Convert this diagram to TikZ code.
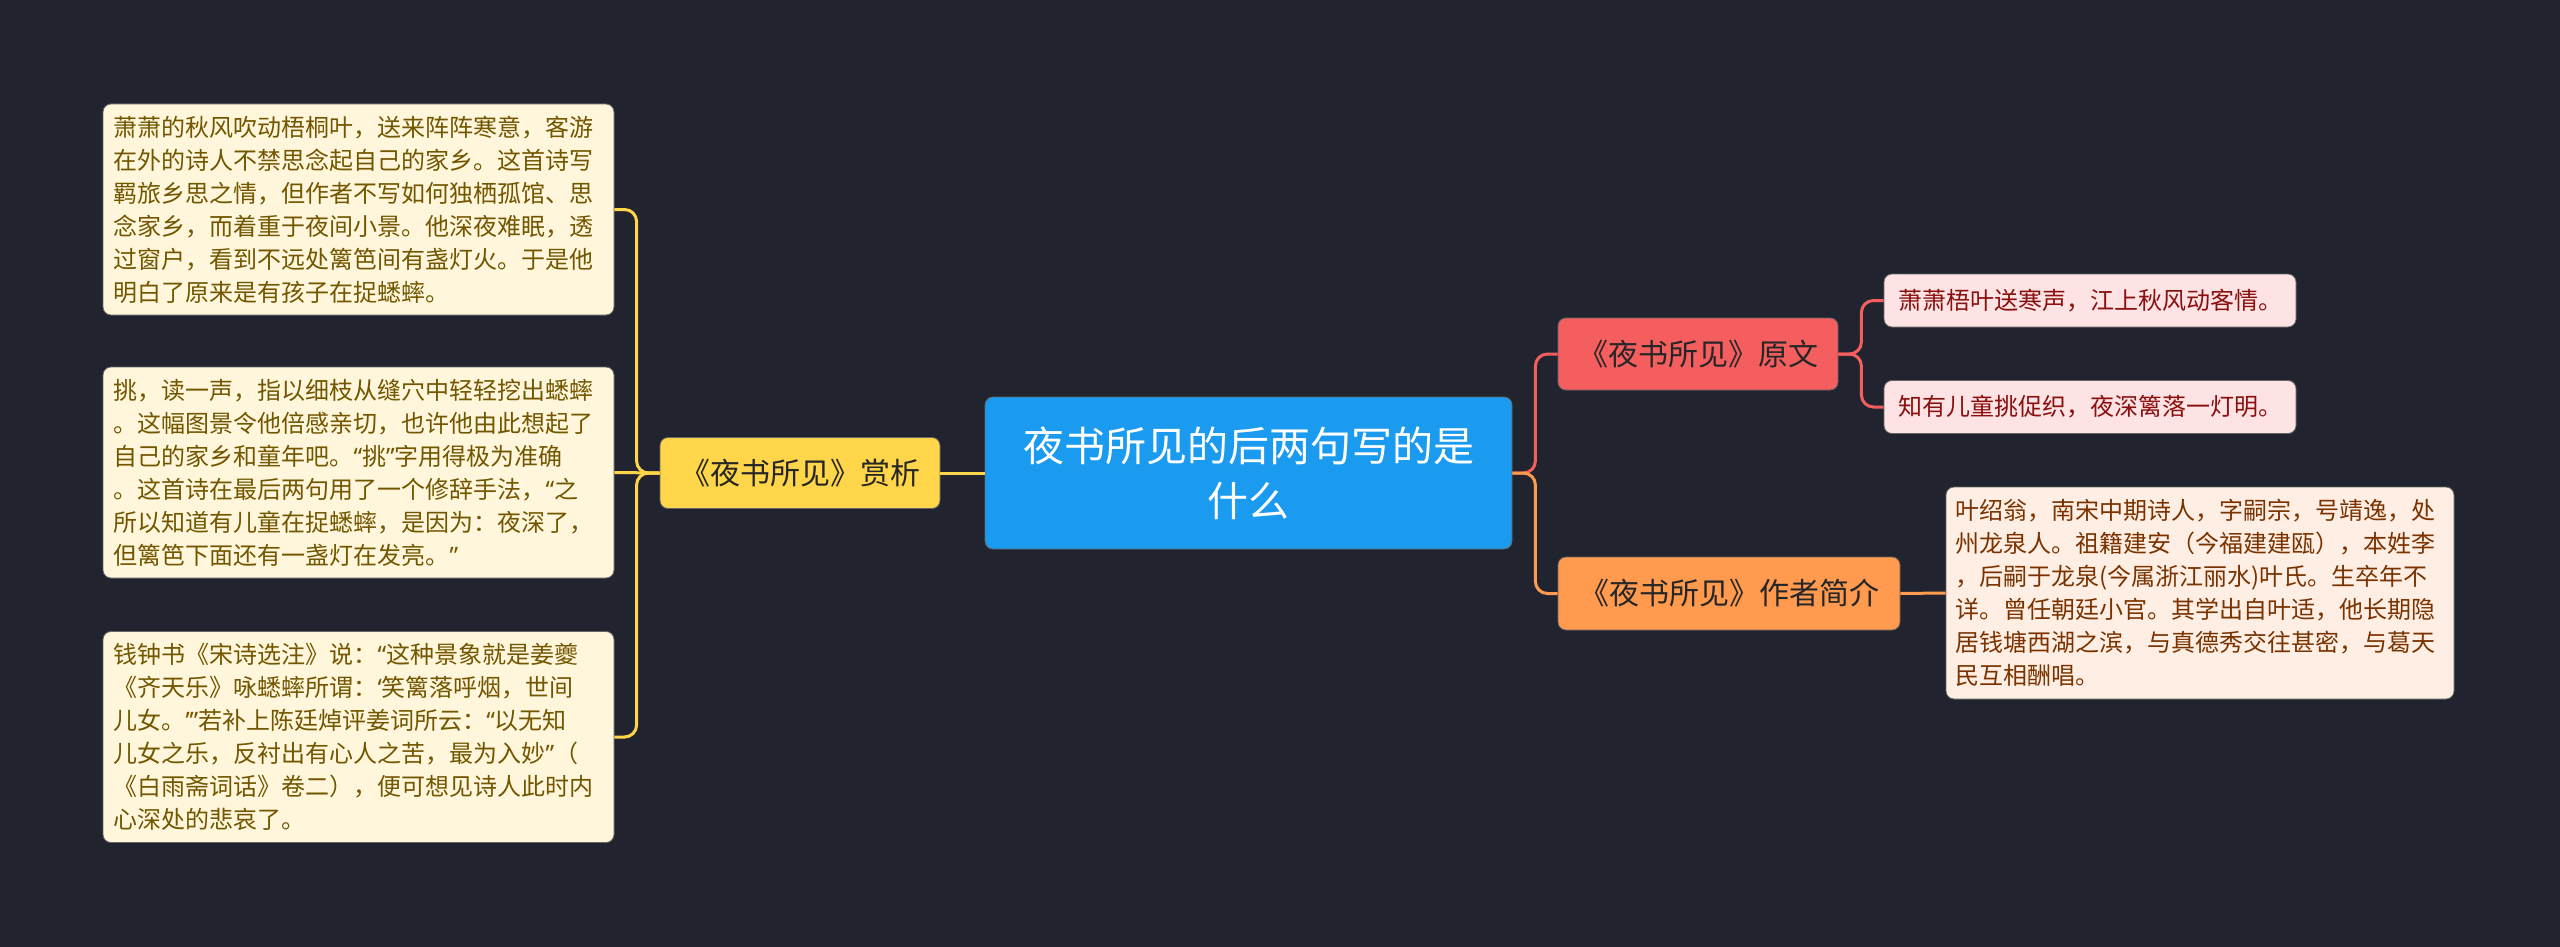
\documentclass[tikz,border=0pt]{standalone}
\usepackage{fontspec}
\setmainfont{Noto Sans CJK SC}
\newfontfamily\qfont{Noto Sans}
\newcommand{\Qlq}{{\qfont “}}
\newcommand{\Qrq}{{\qfont ”}}
\newcommand{\Qls}{{\qfont ‘}}
\newcommand{\Qrs}{{\qfont ’}}
\definecolor{bg}{HTML}{21242F}
\definecolor{cblue}{HTML}{1A9BF0}
\definecolor{cyel}{HTML}{FFD54A}
\definecolor{ccream}{HTML}{FFF6DB}
\definecolor{colive}{HTML}{725600}
\definecolor{cred}{HTML}{F55E5E}
\definecolor{cpink}{HTML}{FDE3E3}
\definecolor{cdred}{HTML}{8A0F0F}
\definecolor{corange}{HTML}{FF9A4E}
\definecolor{cpeach}{HTML}{FFEEE3}
\definecolor{cbrown}{HTML}{7A3300}
\tikzset{
  boxbase/.style={rounded corners=4pt, inner sep=0pt, draw=black!60, line width=0.4pt},
  rootbox/.style={boxbase, fill=cblue, text=white, align=center, minimum width=263.5pt, minimum height=76pt, font=\fontsize{20.5}{27.5}\selectfont},
  yelbox/.style={boxbase, fill=cyel, text=black!85, minimum width=140pt, minimum height=35.5pt, font=\fontsize{15}{18}\selectfont},
  redbox/.style={boxbase, fill=cred, text=black!85, minimum width=140pt, minimum height=36pt, font=\fontsize{15}{18}\selectfont},
  orabox/.style={boxbase, fill=corange, text=black!85, minimum width=171pt, minimum height=36.5pt, font=\fontsize{15}{18}\selectfont},
  creambox/.style={boxbase, fill=ccream, text=colive, align=left, text width=245pt, minimum width=255.5pt, minimum height=105.5pt, font=\fontsize{12}{16.5}\selectfont},
  pinkbox/.style={boxbase, fill=cpink, text=cdred, minimum width=206pt, minimum height=26.5pt, font=\fontsize{12}{16.5}\selectfont},
  peachbox/.style={boxbase, fill=cpeach, text=cbrown, align=left, text width=245pt, minimum width=254pt, minimum height=106pt, font=\fontsize{12}{16.5}\selectfont},
  yline/.style={draw=cyel, line width=1.5pt, rounded corners=6pt},
  rline/.style={draw=cred, line width=1.5pt, rounded corners=6pt},
  oline/.style={draw=corange, line width=1.5pt, rounded corners=6pt},
}
\begin{document}
\begin{tikzpicture}[x=0.5pt,y=-0.5pt]
\fill[bg] (0,0) rectangle (2560,947);
\useasboundingbox (0,0) rectangle (2560,947);

\node[rootbox] (root) at (1248.5,473) {夜书所见的后两句写的是\\什么};

\node[yelbox] (lmid) at (800,473) {《夜书所见》赏析};
\node[creambox] (l1) at (358.5,209.5) {萧萧的秋风吹动梧桐叶，送来阵阵寒意，客游\\在外的诗人不禁思念起自己的家乡。这首诗写\\羁旅乡思之情，但作者不写如何独栖孤馆、思\\念家乡，而着重于夜间小景。他深夜难眠，透\\过窗户，看到不远处篱笆间有盏灯火。于是他\\明白了原来是有孩子在捉蟋蟀。};
\node[creambox] (l2) at (358.5,472.5) {挑，读一声，指以细枝从缝穴中轻轻挖出蟋蟀\\。这幅图景令他倍感亲切，也许他由此想起了\\自己的家乡和童年吧。\Qlq 挑\Qrq 字用得极为准确\\。这首诗在最后两句用了一个修辞手法，\Qlq 之\\所以知道有儿童在捉蟋蟀，是因为：夜深了，\\但篱笆下面还有一盏灯在发亮。\Qrq};
\node[creambox] (l3) at (358.5,737) {钱钟书《宋诗选注》说：\Qlq 这种景象就是姜夔\\《齐天乐》咏蟋蟀所谓：\Qls 笑篱落呼烟，世间\\儿女。\Qrs\Qrq 若补上陈廷焯评姜词所云：\Qlq 以无知\\儿女之乐，反衬出有心人之苦，最为入妙\Qrq（\\《白雨斋词话》卷二），便可想见诗人此时内\\心深处的悲哀了。};

\node[redbox] (r1) at (1698,354) {《夜书所见》原文};
\node[pinkbox] (p1) at (2090,300.5) {萧萧梧叶送寒声，江上秋风动客情。};
\node[pinkbox] (p2) at (2090,407) {知有儿童挑促织，夜深篱落一灯明。};

\node[orabox] (r2) at (1729,593.5) {《夜书所见》作者简介};
\node[peachbox] (a1) at (2200,593) {叶绍翁，南宋中期诗人，字嗣宗，号靖逸，处\\州龙泉人。祖籍建安（今福建建瓯），本姓李\\，后嗣于龙泉(今属浙江丽水)叶氏。生卒年不\\详。曾任朝廷小官。其学出自叶适，他长期隐\\居钱塘西湖之滨，与真德秀交往甚密，与葛天\\民互相酬唱。};

% connectors
\draw[yline] (root.west) -- (lmid.east);
\draw[yline] (lmid.west) -- ++(-23,0) |- (l1.east);
\draw[yline] (lmid.west) -- (l2.east);
\draw[yline] (lmid.west) -- ++(-23,0) |- (l3.east);

\draw[rline] (root.east) -- ++(23,0) |- (r1.west);
\draw[oline] (root.east) -- ++(23,0) |- (r2.west);

\draw[rline] (r1.east) -- ++(23,0) |- (p1.west);
\draw[rline] (r1.east) -- ++(23,0) |- (p2.west);

\draw[oline] (r2.east) -- (a1.west);
\end{tikzpicture}
\end{document}
